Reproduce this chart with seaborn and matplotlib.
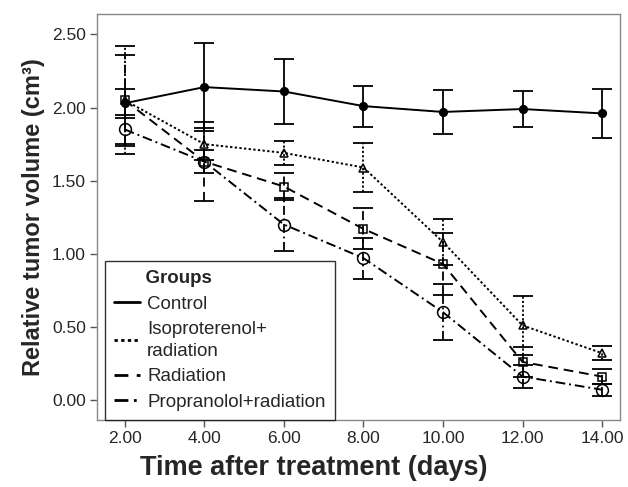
import numpy as np
import pandas as pd
import matplotlib
matplotlib.use("Agg")
import matplotlib.pyplot as plt
from matplotlib.lines import Line2D
import seaborn as sns

days = [2, 4, 6, 8, 10, 12, 14]
groups = ["Control", "Isoproterenol+\nradiation", "Radiation", "Propranolol+radiation"]

control = [2.03, 2.14, 2.11, 2.01, 1.97, 1.99, 1.96]
control_err = [0.10, 0.30, 0.22, 0.14, 0.15, 0.12, 0.17]
iso = [2.05, 1.75, 1.69, 1.59, 1.08, 0.51, 0.32]
iso_err = [0.37, 0.11, 0.08, 0.17, 0.16, 0.20, 0.05]
rad = [2.05, 1.63, 1.46, 1.17, 0.93, 0.26, 0.16]
rad_err = [0.31, 0.27, 0.09, 0.14, 0.21, 0.10, 0.05]
prop = [1.85, 1.63, 1.20, 0.97, 0.60, 0.16, 0.07]
prop_err = [0.10, 0.08, 0.18, 0.14, 0.19, 0.08, 0.04]

yticks = [0.0, 0.5, 1.0, 1.5, 2.0, 2.5]

values = [control, iso, rad, prop]
errs = [control_err, iso_err, rad_err, prop_err]

df = pd.DataFrame({
    "day": np.tile(days, 4),
    "vol": np.concatenate(values),
    "group": np.repeat(groups, len(days)),
})

sns.set_style("white")
plt.rcParams["font.family"] = ["Liberation Sans", "DejaVu Sans"]

fig = plt.figure(figsize=(6.28, 4.87), dpi=100)
ax = fig.add_axes([97 / 628, 1 - 420 / 487, (620 - 97) / 628, (420 - 14) / 487])

dash_styles = {
    groups[0]: "",
    groups[1]: (1.2, 1.2),
    groups[2]: (5, 3),
    groups[3]: (5, 2, 1, 2),
}
mpl_ls = ["-", (0, (1.2, 1.2)), (0, (5, 3)), (0, (5, 2, 1, 2))]
markers = {groups[0]: "o", groups[1]: "^", groups[2]: "s", groups[3]: "o"}
msizes = [5.5, 6, 6, 8.5]
mfaces = ["black", "none", "none", "none"]

sns.lineplot(data=df, x="day", y="vol", style="group", dashes=dash_styles,
             markers=markers, color="black", linewidth=1.4, ax=ax, legend=False,
             markersize=6)

for line, ms, mf in zip(ax.lines, msizes, mfaces):
    line.set_markersize(ms)
    line.set_markerfacecolor(mf)
    line.set_markeredgecolor("black")
    line.set_markeredgewidth(1.1)

for v, e, ls in zip(values, errs, mpl_ls):
    eb = ax.errorbar(days, v, yerr=e, fmt="none", ecolor="black",
                     elinewidth=1.3, capsize=7.5, capthick=1.3, zorder=1)
    for lc in eb[2]:
        lc.set_linestyle(ls)

ax.set_xlim(1.30, 14.45)
ax.set_ylim(-0.137, 2.64)
ax.set_xticks(days)
ax.set_xticklabels([f"{d:.2f}" for d in days], fontsize=12.5)
ax.set_yticks(yticks)
ax.set_yticklabels([f"{t:.2f}" for t in yticks], fontsize=12.5)
ax.tick_params(axis="both", which="both", direction="out", length=5, width=1,
               color="#555555", left=True, bottom=True, pad=3)
for s in ax.spines.values():
    s.set_color("#888888")
    s.set_linewidth(1.0)

ax.set_xlabel("Time after treatment (days)", fontsize=19.5, fontweight="bold")
ax.xaxis.set_label_coords(0.415, -0.087)
ax.set_ylabel("Relative tumor volume (cm³)", fontsize=17, fontweight="bold", labelpad=5)

handles = [Line2D([], [], color="black", linestyle=ls, linewidth=2.0) for ls in mpl_ls]
leg = ax.legend(handles, groups, title="      Groups", loc="lower left",
                bbox_to_anchor=(0.015, 0.0), borderaxespad=0.0,
                fontsize=13.5, title_fontsize=13.5, alignment="left",
                handlelength=1.4, handletextpad=0.35, frameon=True, fancybox=False,
                edgecolor="black", borderpad=0.5, labelspacing=0.45)
leg.get_title().set_fontweight("bold")
leg.get_frame().set_linewidth(1.0)
leg.get_texts()[1].set_linespacing(1.35)

fig.savefig("out.png", dpi=100)
